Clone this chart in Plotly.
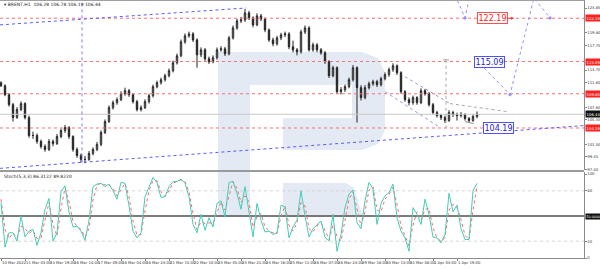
import plotly.graph_objects as go

# ---------------- data ----------------
bars = list(range(120))
opens = [111.60,111.13,109.66,108.02,105.90,107.21,108.19,105.90,102.96,102.96,
         101.98,101.16,100.67,101.98,101.65,102.79,103.77,104.26,102.79,100.67,
         99.69,99.04,99.04,100.02,100.67,101.49,103.45,105.25,107.53,108.35,
         108.84,109.82,110.31,109.66,108.51,107.21,107.53,108.51,109.49,110.96,
         111.62,112.11,112.76,113.58,114.89,116.03,118.32,119.30,119.62,118.64,
         116.19,117.01,115.54,115.05,115.70,117.01,117.17,116.36,118.97,120.60,
         121.75,121.91,123.06,122.24,121.10,122.57,122.08,120.28,118.64,117.99,
         118.97,119.46,119.62,117.50,117.01,116.68,119.95,120.60,117.01,117.83,
         117.01,116.52,115.05,112.76,114.07,110.15,110.47,110.96,112.11,114.07,
         110.80,109.17,110.80,111.45,111.78,111.29,112.27,112.93,113.74,114.40,
         113.25,110.15,108.84,108.35,109.17,108.35,110.31,109.82,108.02,106.72,
         106.23,105.90,105.41,106.72,106.39,106.23,106.39,105.74,105.41,106.06]
highs = [111.85,111.35,109.90,108.30,107.60,108.55,108.40,106.20,103.60,103.30,
         102.30,101.50,102.40,102.30,103.20,104.10,104.70,104.50,103.00,101.00,
         100.00,99.60,100.40,101.00,101.90,103.80,105.60,107.90,108.70,109.20,
         110.20,110.80,110.60,109.90,108.80,107.90,108.90,109.80,111.30,111.95,
         112.45,113.10,113.95,115.25,116.40,118.70,119.70,120.00,119.90,118.90,
         117.40,117.30,115.90,116.10,117.40,117.60,117.50,119.30,121.00,122.10,
         122.40,123.70,123.40,122.50,123.00,122.90,122.30,120.50,119.00,119.30,
         119.80,120.00,119.90,118.50,117.30,120.30,121.00,120.90,118.20,118.10,
         117.30,116.80,115.30,114.40,114.30,110.90,111.30,112.45,114.50,114.30,
         111.20,111.20,111.80,112.10,112.10,112.60,113.30,114.10,114.80,114.60,
         113.50,110.40,109.20,109.50,109.40,110.70,110.60,110.10,108.30,107.00,
         106.50,106.20,107.10,107.00,106.70,106.80,106.60,106.00,106.40,106.90]
lows = [110.90,109.40,107.70,105.25,105.70,106.95,105.60,102.60,102.40,101.60,
        100.80,100.30,100.40,101.20,101.40,102.50,103.40,102.40,100.30,99.30,
        98.50,98.40,98.80,99.70,100.40,101.20,103.20,105.00,107.20,108.00,
        108.60,109.50,109.30,108.20,106.90,106.90,107.30,108.20,109.20,110.70,
        111.30,111.80,112.50,113.30,114.60,115.80,118.00,119.00,118.30,114.07,
        115.80,115.20,114.70,114.80,115.40,116.70,116.00,116.10,118.70,120.30,
        121.40,121.60,121.90,120.70,120.90,121.70,119.90,118.30,117.60,117.70,
        118.60,119.10,117.10,116.60,116.10,116.40,119.60,116.70,116.70,116.60,
        116.20,114.70,112.40,112.50,109.80,109.70,110.10,110.70,111.80,105.08,
        108.70,108.90,110.50,111.10,110.90,111.00,112.00,112.60,113.40,112.90,
        109.80,108.50,107.90,108.00,108.00,108.10,109.50,107.70,106.40,105.90,
        105.50,105.00,105.20,106.00,105.40,105.90,105.40,105.00,105.20,105.80]
closes = [111.13,109.66,108.02,105.90,107.21,108.19,105.90,102.96,102.96,101.98,
          101.16,100.67,101.98,101.65,102.79,103.77,104.26,102.79,100.67,99.69,
          99.04,99.04,100.02,100.67,101.49,103.45,105.25,107.53,108.35,108.84,
          109.82,110.31,109.66,108.51,107.21,107.53,108.51,109.49,110.96,111.62,
          112.11,112.76,113.58,114.89,116.03,118.32,119.30,119.62,118.64,116.19,
          117.01,115.54,115.05,115.70,117.01,117.17,116.36,118.97,120.60,121.75,
          121.91,123.06,122.24,121.10,122.57,122.08,120.28,118.64,117.99,118.97,
          119.46,119.62,117.50,117.01,116.68,119.95,120.60,117.01,117.83,117.01,
          116.52,115.05,112.76,114.07,110.15,110.47,110.96,112.11,114.07,110.80,
          109.17,110.80,111.45,111.78,111.29,112.27,112.93,113.74,114.40,113.25,
          110.15,108.84,108.35,109.17,108.35,110.31,109.82,108.02,106.72,106.23,
          105.90,105.41,106.72,106.39,106.23,106.39,105.74,105.41,106.06,106.44]
stoch_k = [66,13,30,30,20,50,25,32,34,15,
           30,58,71,20,30,79,86,55,37,38,
           32,21,45,85,88,89,85,88,80,70,
           90,89,62,32,24,30,73,85,96,90,
           72,73,85,91,91,94,89,73,40,30,
           52,33,48,37,65,68,49,90,91,77,
           58,85,55,25,65,45,31,32,28,30,
           63,61,24,37,45,80,50,25,35,40,
           44,25,20,52,8,28,60,76,81,42,
           35,68,90,82,40,65,74,78,88,48,
           32,24,8,60,52,40,70,52,25,24,
           18,28,77,55,63,35,22,22,80,89]
stoch_d = [70,34,23,30,24,38,35,29,33,23,
           24,47,66,40,26,59,83,67,44,38,
           34,25,35,69,87,89,87,87,83,74,
           82,89,73,44,27,28,56,80,92,92,
           79,73,80,89,91,93,91,79,53,34,
           43,41,42,41,54,67,57,74,91,83,
           66,74,67,37,49,53,37,32,30,29,
           50,62,39,32,42,66,62,35,31,38,
           42,33,22,39,26,20,47,70,79,58,
           38,55,81,85,57,55,70,76,84,64,
           38,27,14,39,55,45,58,59,36,24,
           20,24,57,64,60,46,27,22,57,85]
date_tick_bars = [0, 6, 12, 18, 24, 30, 36, 42, 48, 54, 60, 66, 72, 78, 84, 90, 96, 102, 108, 114]
date_labels = ["10 Mar 2022", "11 Mar 03:00", "13 Mar 19:00", "16 Mar 14:00", "17 Mar 09:00",
               "18 Mar 04:00", "18 Mar 23:00", "21 Mar 15:00", "22 Mar 10:00", "23 Mar 05:00",
               "23 Mar 21:00", "24 Mar 16:00", "25 Mar 11:00", "28 Mar 07:00", "28 Mar 23:00",
               "29 Mar 18:00", "30 Mar 13:00", "31 Mar 08:00", "1 Apr 03:00", "1 Apr 19:00"]
price_ticks = [123.85, 119.80, 117.75, 113.70, 111.65, 107.60, 105.55, 101.50, 99.45, 97.40]
red_levels = [122.19, 115.09, 109.80, 104.19]
last_price = 106.44
stoch_levels = [20, 80]
stoch_mid = 50
stoch_ticks = [0, 20, 80, 100]

# drawings (bar index, price)
support_x, support_y = [-0.25, 145.75], [97.57, 104.59]
resist_x, resist_y = [-0.25, 61.25], [121.10, 123.87]
low_x, low_y = [20.25, 20.25], [98.55, 125.6]
wedge_up_x, wedge_up_y = [101, 112.25], [112.60, 108.19]
wedge_lo_x, wedge_lo_y = [96, 109.75], [110.15, 104.27]
tri_up_x, tri_up_y = [112.25, 126.5], [108.19, 106.88]
tri_lo_x, tri_lo_y = [116, 121.25], [105.25, 104.43]
meas_x, meas_y = [111.25, 111.25], [115.38, 104.10]
meas_tick_x, meas_tick_y = [110.5, 112.0], [115.38, 115.38]
fc_x, fc_y = [119.75, 127.25, 133.25, 137.25], [114.72, 109.66, 125.51, 122.24]
fc2_x, fc2_y = [113.5, 116.0, 117.25], [126.0, 122.24, 126.0]

# ---------------- layout helpers ----------------
W, H = 600, 269
XR = [-0.25, 145.75]
def pxx(p): return p / W
def pxy(p): return 1 - p / H

fig = go.Figure()

def line(x, y, color, dash="dot", width=1, axis=("x", "y"), mode="lines", marker=None):
    fig.add_trace(go.Scatter(x=x, y=y, mode=mode, line=dict(color=color, dash=dash, width=width),
                             marker=marker, xaxis=axis[0], yaxis=axis[1],
                             showlegend=False, hoverinfo="skip", cliponaxis=True))

# level lines
for lv in red_levels:
    line(XR, [lv, lv], "#ff7070", "dot", 1)
line(XR, [last_price, last_price], "#c8c8c8", "solid", 1)

# trend drawings
line(support_x, support_y, "#5a5aff", "dot", 1)
line(resist_x, resist_y, "#5a5aff", "dot", 1)
line(low_x, low_y, "#7a7aff", "dot", 1)
line(wedge_up_x, wedge_up_y, "#9a9ad8", "dot", 1)
line(wedge_lo_x, wedge_lo_y, "#9a9ad8", "dot", 1)
line(tri_up_x, tri_up_y, "#a8a8a8", "dot", 1)
line(tri_lo_x, tri_lo_y, "#909090", "dash", 1)
line(meas_x, meas_y, "#a8a8a8", "dot", 1)
line(meas_tick_x, meas_tick_y, "#a8a8a8", "solid", 1)
line(fc_x, fc_y, "#9090ff", "dot", 1, mode="lines+markers",
     marker=dict(size=3, color="#9090ff", symbol="diamond"))
line(fc2_x, fc2_y, "#9090ff", "dot", 1, mode="lines+markers",
     marker=dict(size=3, color="#9090ff", symbol="diamond"))

fig.add_trace(go.Candlestick(
    x=bars, open=opens, high=highs, low=lows, close=closes,
    xaxis="x", yaxis="y", whiskerwidth=0,
    increasing=dict(line=dict(color="#222222", width=1), fillcolor="#e8e8e8"),
    decreasing=dict(line=dict(color="#222222", width=1), fillcolor="#222222"),
    showlegend=False, hoverinfo="skip"))

# stochastic
for lv in stoch_levels:
    line(XR, [lv, lv], "#d4d4d4", "dot", 1, axis=("x2", "y2"))
line(XR, [stoch_mid, stoch_mid], "#505050", "solid", 1.3, axis=("x2", "y2"))
line(bars, stoch_d, "#ff6a6a", "dot", 1, axis=("x2", "y2"))
line(bars, stoch_k, "#45ccb8", "solid", 1, axis=("x2", "y2"))

# watermark logo (paper pixels)
logo = [
    [(218, 52), (250, 52), (250, 217), (218, 217)],
    [(250, 52), (362, 52), (378, 58), (385, 72), (385, 130), (378, 144), (362, 150),
     (283, 150), (283, 118), (352, 118), (352, 85), (250, 85)],
    [(283, 183), (346, 183), (354, 188), (363, 217), (283, 217)],
]
shapes = []
for poly in logo:
    path = "M " + " L ".join(f"{pxx(a):.5f},{pxy(b):.5f}" for a, b in poly) + " Z"
    shapes.append(dict(type="path", path=path, xref="paper", yref="paper",
                       fillcolor="#e4eaf3", line=dict(width=0), layer="below"))
# frame
shapes += [
    dict(type="line", xref="paper", yref="paper", x0=0, x1=pxx(584), y0=pxy(0.5), y1=pxy(0.5),
         line=dict(color="#a0a0a0", width=1)),
    dict(type="rect", xref="paper", yref="paper", x0=0, x1=pxx(584), y0=pxy(172), y1=pxy(170),
         fillcolor="#9a9a9a", line=dict(width=0)),
]

small = dict(size=3.8, color="#ffffff", family="DejaVu Sans")
ann = []
ann.append(dict(xref="paper", yref="paper", x=pxx(2), y=pxy(4), xanchor="left", yanchor="middle",
                text="▾ BRENT,H1  106.28 106.78 106.19 106.44", showarrow=False,
                font=dict(size=4.5, color="#222", family="DejaVu Sans")))
ann.append(dict(xref="paper", yref="paper", x=pxx(2), y=pxy(176), xanchor="left", yanchor="middle",
                text="Stoch(5,3,3) 86.3122 89.8220", showarrow=False,
                font=dict(size=4.5, color="#222", family="DejaVu Sans")))
# axis price boxes
for lv in red_levels:
    ann.append(dict(xref="paper", yref="y", x=pxx(585), y=lv, xanchor="left", yanchor="middle",
                    text=f"{lv:.2f}", showarrow=False, bgcolor="#ff2020", borderpad=0.6,
                    font=small))
ann.append(dict(xref="paper", yref="y", x=pxx(585), y=last_price, xanchor="left", yanchor="middle",
                text=f"{last_price:.2f}", showarrow=False, bgcolor="#111111", borderpad=0.6,
                font=small))
ann.append(dict(xref="paper", yref="y2", x=pxx(585), y=stoch_mid, xanchor="left", yanchor="middle",
                text=f"{stoch_mid:.4f}", showarrow=False, bgcolor="#111111", borderpad=0.5,
                font=dict(size=3.3, color="#ffffff", family="DejaVu Sans")))
# level boxes on chart
ann.append(dict(x=128.25, y=red_levels[0], xref="x", yref="y", ax=-22, ay=0,
                text=f"{red_levels[0]:.2f}", showarrow=True, arrowhead=2, arrowsize=0.6,
                arrowwidth=1, arrowcolor="#ff3030", bgcolor="#ffffff", bordercolor="#ff5050",
                borderwidth=1, borderpad=0.5, font=dict(size=8, color="#ff2020", family="DejaVu Sans")))
ann.append(dict(x=122.0, y=red_levels[1], xref="x", yref="y", showarrow=False,
                text=f"{red_levels[1]:.2f}", bgcolor="#ffffff", bordercolor="#5050ff",
                borderwidth=1, borderpad=0.5, font=dict(size=8, color="#2020e0", family="DejaVu Sans")))
ann.append(dict(x=124.25, y=red_levels[3], xref="x", yref="y", showarrow=False,
                text=f"{red_levels[3]:.2f}", bgcolor="#ffffff", bordercolor="#5050ff",
                borderwidth=1, borderpad=0.5, font=dict(size=8, color="#2020e0", family="DejaVu Sans")))

axfont = dict(size=3.8, color="#333", family="DejaVu Sans")
fig.update_layout(
    template="none", width=W, height=H, margin=dict(l=0, r=0, t=0, b=0),
    paper_bgcolor="#ffffff", plot_bgcolor="#ffffff", showlegend=False,
    shapes=shapes, annotations=ann, boxgap=0.5,
    xaxis=dict(domain=[0, pxx(584)], range=XR, anchor="y", showticklabels=False,
               showgrid=False, zeroline=False, showline=False, rangeslider=dict(visible=False),
               automargin=False, fixedrange=True),
    xaxis2=dict(domain=[0, pxx(584)], range=XR, anchor="y2", showgrid=False, zeroline=False,
                tickvals=date_tick_bars, ticktext=date_labels, tickfont=axfont, tickangle=0,
                ticks="outside", ticklen=2, tickcolor="#888", showline=True, linecolor="#8a8a8a",
                linewidth=1, ticklabelposition="outside right", automargin=False),
    yaxis=dict(domain=[pxy(170), 1], range=[97.30, 125.18], anchor="x", side="right",
               tickvals=price_ticks, ticktext=[f"{v:.2f}" for v in price_ticks], tickfont=axfont,
               ticks="outside", ticklen=1.5, tickcolor="#888", showline=True, linecolor="#8a8a8a",
               showgrid=False, zeroline=False, automargin=False),
    yaxis2=dict(domain=[pxy(258), pxy(172)], range=[0, 102.4], anchor="x2", side="right",
                tickvals=stoch_ticks, ticktext=[str(v) for v in stoch_ticks], tickfont=axfont,
                ticks="outside", ticklen=1.5, tickcolor="#888", showline=True, linecolor="#8a8a8a",
                showgrid=False, zeroline=False, automargin=False),
)

fig.write_html("out.html")
